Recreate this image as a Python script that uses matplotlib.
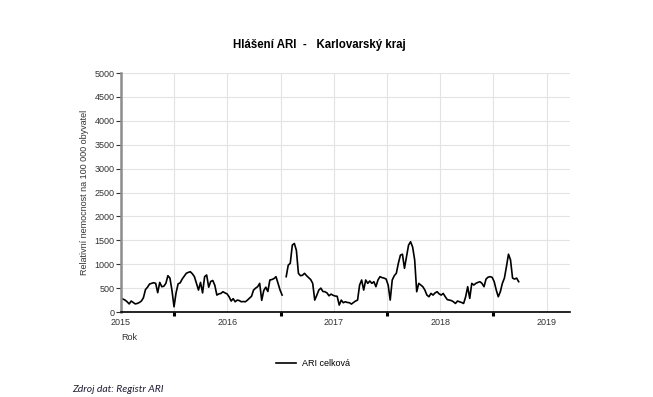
import matplotlib.pyplot as plt
import numpy as np

plt.rcParams['font.family'] = ['Liberation Sans', 'DejaVu Sans']

# weekly values, week 0 = first week of 2015
ari = [290, 270, 250, 215, 170, 230, 200, 170, 180, 200,
       230, 300, 470, 520, 586, 600, 614, 600, 405, 620,
       530, 540, 600, 760, 710, 450, 110, 400, 590, 610,
       690, 750, 810, 830, 843, 800, 740, 600, 460, 620,
       400, 740, 775, 520, 640, 660, 560, 355, 380, 390,
       425, 400, 380, 320, 230, 280, 215, 250, 240, 215,
       220, 215, 250, 290, 330, 460, 500, 530, 600, 245,
       450, 520, 430, 670, 680, 700, 740, 600, 460, 355,
       np.nan, 740, 980, 1020, 1400, 1435, 1290, 810, 760, 770,
       810, 760, 720, 680, 600, 250, 350, 460, 500, 430,
       425, 400, 340, 375, 350, 335, 330, 146, 250, 195,
       215, 200, 195, 167, 200, 230, 250, 565, 670, 460,
       670, 600, 650, 600, 635, 530, 670, 740, 720, 710,
       690, 565, 250, 670, 760, 810, 1020, 1190, 1210, 915,
       1160, 1400, 1470, 1360, 1090, 425, 600, 565, 530, 460,
       355, 320, 390, 355, 400, 425, 380, 355, 390, 320,
       260, 250, 240, 215, 180, 230, 215, 200, 180, 320,
       530, 285, 600, 565, 600, 620, 635, 600, 530, 690,
       730, 740, 725, 635, 460, 320, 425, 600, 710, 950,
       1210, 1090, 710, 690, 710, 635]

years = [2015, 2016, 2017, 2018, 2019]
yticks = list(range(0, 5001, 500))

weeks = np.arange(len(ari))
t = 2015 + weeks / 52.18

fig = plt.figure(figsize=(6.53, 3.97), dpi=100)
ax = fig.add_axes([0.1853, 0.214, 0.6877, 0.602])

ax.plot(t, ari, color='black', lw=1.2, label='ARI celková')

ax.set_xlim(2015, 2019.22)
ax.set_ylim(0, 5000)

halves = [y + 0.5 for y in years[:-1]]
for x in years[1:] + halves:
    ax.axvline(x, color='#e3e3e3', lw=0.8, zorder=0)
for y in yticks[1:]:
    ax.axhline(y, color='#e3e3e3', lw=0.8, zorder=0)

ax.set_yticks(yticks)
ax.tick_params(axis='y', labelsize=6.5, colors='#333333', length=3.5,
               width=0.8, pad=1)
ax.set_xticks(halves)
ax.set_xticklabels([])
ax.tick_params(axis='x', length=3, width=2.2, color='black', direction='out')
ax.set_xticks(years, minor=True)
ax.set_xticklabels([str(y) for y in years], minor=True)
ax.tick_params(axis='x', which='minor', length=0, labelsize=6.5,
               colors='#333333', pad=4)

for s in ['top', 'right']:
    ax.spines[s].set_visible(False)
ax.spines['left'].set_color('#8c8c8c')
ax.spines['left'].set_linewidth(1.8)
ax.spines['bottom'].set_color('black')
ax.spines['bottom'].set_linewidth(1.2)

ax.set_ylabel('Relativní nemocnost na 100 000 obyvatel', fontsize=6.5,
              color='#333333', labelpad=4)
fig.text(121 / 653, 1 - 338 / 397, 'Rok', fontsize=6.5, color='#333333',
         ha='left', va='center')

fig.text(319 / 653, 1 - 45 / 397, 'Hlášení ARI  -   Karlovarský kraj',
         fontsize=8.3, fontweight='bold', ha='center', va='center')

ax.legend(loc='center', bbox_to_anchor=(313 / 653, 1 - 364 / 397),
          bbox_transform=fig.transFigure, frameon=False, fontsize=6.5,
          handlelength=2.2, handletextpad=0.6)

fig.text(72 / 653, 1 - 390 / 397, 'Zdroj dat: Registr ARI', fontsize=7.5,
         style='italic', family='Lato', color='#1f1f3a', ha='left',
         va='center')

fig.savefig('out.png', dpi=100)
